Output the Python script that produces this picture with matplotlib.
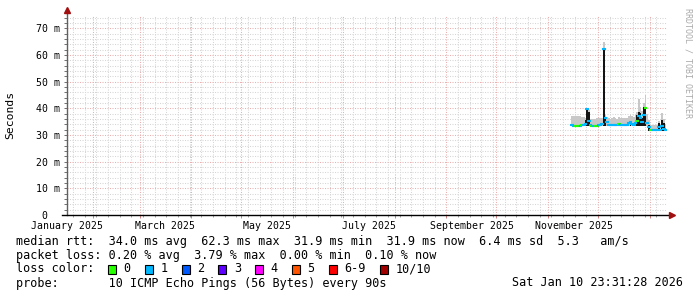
import numpy as np
import pandas as pd
import matplotlib
matplotlib.use("Agg")
import matplotlib.pyplot as plt
import matplotlib.dates as mdates
from matplotlib.ticker import MultipleLocator, NullFormatter, FuncFormatter
from matplotlib.patches import Rectangle

# ---------------- data ----------------
first_day = "2025-11-15"          # daily bins
median_ms = [33.6, 33.5, 33.4, 33.4, 33.5, 33.5, 33.6, 33.6, 34.0, 39.6,
             35.2, 33.6, 33.4, 33.4, 33.5, 33.5, 33.6, 33.6, 34.0, 62.3,
             36.5, 35.0, 33.8, 33.6, 33.6, 33.7, 33.6, 33.6, 34.3, 33.8,
             33.6, 33.7, 33.6, 33.8, 34.4, 35.0, 34.2, 33.8, 34.5, 35.4,
             37.3, 36.5, 35.0, 37.5, 40.0, 34.5, 33.0, 32.0, 32.0, 31.9,
             31.9, 31.9, 33.0, 31.9, 33.5, 32.4, 31.9]
loss_pings = [1, 1, 0, 0, 0, 1, 0, 1, 1, 1,
              1, 1, 0, 1, 0, 0, 1, 1, 1, 1,
              1, 1, 1, 1, 1, 1, 1, 1, 0, 1,
              1, 1, 1, 1, 1, 1, 1, 1, 1, 0,
              1, 1, 1, 1, 0, 1, 1, 1, 0, 1,
              1, 1, 1, 1, 1, 1, 1]
smoke_lo = [33.2] * 46 + [31.6] * 11
smoke_hi = [37.1, 37.1, 37.1, 37.1, 37.1, 37.1, 36.7, 36.7, 36.5, 40.3,
            39.2, 36.0, 36.0, 36.0, 36.0, 36.4, 36.4, 36.4, 36.4, 65.0,
            37.5, 36.6, 36.3, 36.0, 36.3, 36.6, 36.3, 36.0, 36.6, 36.2,
            36.2, 36.2, 36.2, 36.2, 37.0, 37.4, 37.0, 36.6, 37.5, 38.5,
            43.4, 40.5, 39.0, 42.0, 45.0, 38.0, 35.5, 33.6, 33.6, 33.6,
            33.6, 33.6, 35.2, 34.0, 38.1, 36.0, 34.2]
dark_hi = [np.nan] * 8 + [35.6, 39.8, 38.5] + [np.nan] * 8 + [62.0, 36.9] \
    + [np.nan] * 14 + [35.3] + [np.nan] * 3 + [37.5, 38.7, 38.2, 36.5, 40.4, 39.6] \
    + [np.nan] + [33.6] + [np.nan] * 5 + [34.6] + [np.nan] + [35.6, 34.4] + [np.nan]

loss_labels = ["0", "1", "2", "3", "4", "5", "6-9", "10/10"]
loss_colors = ["#26ff00", "#00b8ff", "#0059ff", "#5e00ff", "#ff00ff",
               "#ff5500", "#ff0000", "#a10000"]

month_labels = ["January 2025", "March 2025", "May 2025", "July 2025",
                "September 2025", "November 2025"]
month_label_pos = ["2025-01-16 12:00", "2025-03-16 12:00", "2025-05-16 12:00",
                   "2025-07-16 12:00", "2025-09-16 12:00", "2025-11-16 12:00"]

legend_rows = [
    "median rtt:  34.0 ms avg  62.3 ms max  31.9 ms min  31.9 ms now  6.4 ms sd  5.3   am/s",
    "packet loss: 0.20 % avg  3.79 % max  0.00 % min  0.10 % now",
]
probe_text = "probe:       10 ICMP Echo Pings (56 Bytes) every 90s"
stamp_text = "Sat Jan 10 23:31:28 2026"

# ---------------- figure ----------------
W, H = 697, 297
MONO = "DejaVu Sans Mono"
fig = plt.figure(figsize=(W / 100, H / 100), dpi=100, facecolor="white")
ax = fig.add_axes([67 / W, (H - 215) / H, 600 / W, 200 / H])
ax.set_facecolor("white")

t0 = pd.Timestamp("2025-01-16 12:00")
t1 = pd.Timestamp("2026-01-11 12:00")
ax.set_xlim(mdates.date2num(t0), mdates.date2num(t1))
ax.set_ylim(0, 75)

n = len(median_ms)
edges = pd.date_range(first_day, periods=n + 1, freq="D")
xe = mdates.date2num(edges.to_pydatetime())


def ext(a):
    a = np.asarray(a, float)
    return np.append(a, a[-1])


lo = np.asarray(smoke_lo, float)
hi = np.asarray(smoke_hi, float)
dk = np.asarray(dark_hi, float)
dk_top = np.where(np.isnan(dk), lo, dk)

ax.fill_between(xe, ext(lo), ext(hi), step="post", color="#c8c8c8", lw=0, zorder=2)
ax.fill_between(xe, ext(lo), ext(dk_top), step="post", color="#141414", lw=0, zorder=3)
lc = ax.hlines(median_ms, xe[:-1], xe[1:],
               colors=[loss_colors[l] for l in loss_pings], lw=1.5, zorder=4)
lc.set_capstyle("projecting")

# grid
ax.xaxis.set_major_locator(mdates.MonthLocator())
ax.xaxis.set_minor_locator(mdates.WeekdayLocator(byweekday=mdates.MO))
ax.xaxis.set_major_formatter(NullFormatter())
ax.yaxis.set_major_locator(MultipleLocator(10))
ax.yaxis.set_minor_locator(MultipleLocator(2))
ax.yaxis.set_major_formatter(FuncFormatter(lambda v, p: "0  " if v == 0 else f"{v:.0f} m"))
ax.set_axisbelow(True)
ax.grid(which="major", color="#eab0b0", ls=(0, (1, 1.4)), lw=0.75)
ax.grid(which="minor", color="#d6d6d6", ls=(0, (1, 1.4)), lw=0.75)

ax.tick_params(axis="y", which="both", direction="out", length=2.2, width=0.7,
               color="#707070", pad=2.9, labelsize=7.1)
ax.tick_params(axis="x", which="major", direction="out", length=2.5, width=0.7,
               color="#d08080")
ax.tick_params(axis="x", which="minor", direction="out", length=1.5, width=0.7,
               color="#a0a0a0")
for lab in ax.get_yticklabels():
    lab.set_family(MONO)

for s in ax.spines.values():
    s.set_visible(False)

# axis lines + arrows
ax.plot([0, 0], [0, 1.01], transform=ax.transAxes, color="#606060", lw=1,
        clip_on=False, zorder=5)
ax.plot([-0.008, 1.005], [0, 0], transform=ax.transAxes, color="black", lw=1,
        clip_on=False, zorder=5)
ax.plot([0], [1.023], transform=ax.transAxes, marker="^", ms=4.5, color="#a01010",
        mec="#a01010", clip_on=False, zorder=6)
ax.plot([1.0075], [0], transform=ax.transAxes, marker=">", ms=4.5, color="#a01010",
        mec="#a01010", clip_on=False, zorder=6)

# month labels on a secondary axis
sec = ax.secondary_xaxis("bottom")
sec.set_xticks(mdates.date2num(pd.to_datetime(month_label_pos).to_pydatetime()),
               labels=month_labels)
sec.tick_params(length=0, pad=4.2, labelsize=7.1)
for lab in sec.get_xticklabels():
    lab.set_family(MONO)
sec.spines["bottom"].set_visible(False)

# y label
fig.text(10 / W, 1 - 115 / H, "Seconds", rotation=90, ha="center", va="center",
         size=8.2, family=MONO)

# right side credit
fig.text(688 / W, 1 - 8 / H, "RRDTOOL / TOBI OETIKER", rotation=270, ha="center",
         va="top", size=6.0, color="#aaaaaa", family=MONO)

# legend rows
FS = 8.5
CW = 7.1
ys = [241, 255, 269, 283]
fig.text(16 / W, 1 - ys[0] / H, legend_rows[0], ha="left", va="center", size=FS, family=MONO)
fig.text(16 / W, 1 - ys[1] / H, legend_rows[1], ha="left", va="center", size=FS, family=MONO)
fig.text(16 / W, 1 - ys[2] / H, "loss color:", ha="left", va="center", size=FS, family=MONO)
x = 108.0
for lab, col in zip(loss_labels, loss_colors):
    r = Rectangle((x / W, 1 - (ys[2] + 4.5) / H), 8 / W, 9 / H, transform=fig.transFigure,
                  facecolor=col, edgecolor="black", lw=0.8)
    fig.add_artist(r)
    fig.text((x + 15.5) / W, 1 - ys[2] / H, lab, ha="left", va="center", size=FS, family=MONO)
    x += 15.5 + len(lab) * CW + 2 * CW
fig.text(16 / W, 1 - ys[3] / H, probe_text, ha="left", va="center", size=FS, family=MONO)
fig.text(683 / W, 1 - ys[3] / H, stamp_text, ha="right", va="center", size=FS, family=MONO)

fig.savefig("out.png", dpi=100, facecolor="white")
